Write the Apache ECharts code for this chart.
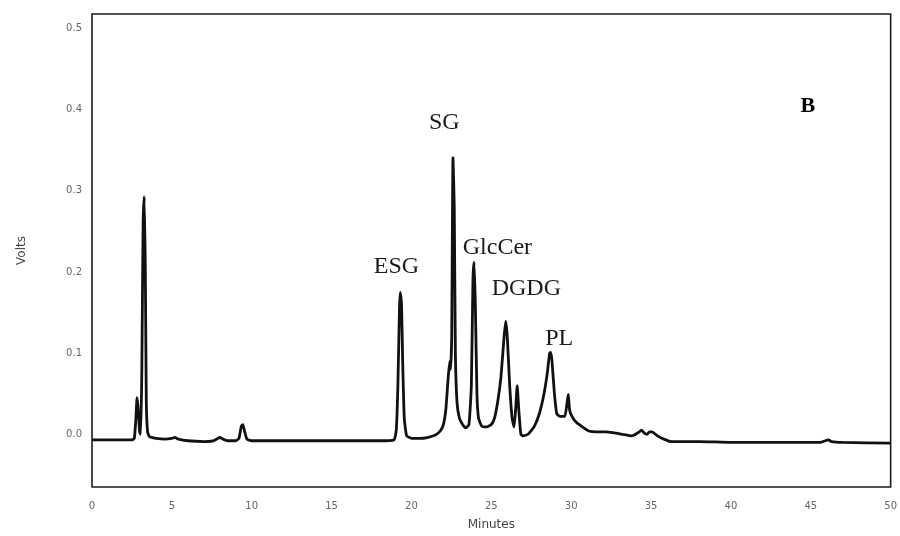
<!DOCTYPE html>
<html>
<head>
<meta charset="utf-8">
<script src="https://cdn.jsdelivr.net/npm/echarts@6/dist/echarts.min.js"></script>
<style>
  html, body { margin: 0; padding: 0; background: #fff; }
  #chart { width: 900px; height: 536px; }
</style>
</head>
<body>
<div id="chart"></div>
<script>
// Detector trace: retention time (minutes) and signal (volts)
const minutes = [
  0.0, 1.0, 2.0, 2.5, 2.65, 2.75, 2.82, 2.9, 2.98, 3.05, 3.12, 3.2, 3.27, 3.34, 3.4, 3.48, 3.6,
  4.0, 4.6, 5.0, 5.2, 5.4, 6.0, 7.0, 7.6, 7.8, 8.0, 8.2, 8.5, 9.0, 9.2, 9.35, 9.45, 9.55, 9.7,
  10.0, 12.0, 15.0, 18.0, 18.9, 19.05, 19.15, 19.25, 19.3, 19.38, 19.45, 19.55, 19.7,
  20.0, 20.5, 21.0, 21.5, 21.8, 22.0, 22.15, 22.3, 22.4, 22.45, 22.52, 22.6, 22.68, 22.75, 22.85,
  23.0, 23.2, 23.4, 23.6, 23.75, 23.85, 23.92, 24.0, 24.1, 24.2, 24.4, 24.7,
  25.0, 25.2, 25.4, 25.6, 25.8, 25.9, 26.0, 26.15, 26.3, 26.42, 26.52, 26.62, 26.72, 26.85,
  27.0, 27.3, 27.7, 28.0, 28.3, 28.5, 28.65, 28.72, 28.8, 28.95, 29.1, 29.3, 29.6, 29.75, 29.82, 29.9,
  30.05, 30.3, 30.7, 31.1, 31.6, 32.2, 32.6, 33.2, 33.8, 34.2, 34.4, 34.6, 34.75, 34.9, 35.06,
  35.4, 35.8, 36.25, 38.0, 40.0, 43.0, 45.6, 45.9, 46.1, 46.3, 47.0, 50.0
];
const volts = [
  -0.007, -0.007, -0.007, -0.007, -0.005, 0.020, 0.045, 0.030, 0.003, 0.000, 0.080, 0.260, 0.293, 0.200, 0.040, 0.003, -0.003,
  -0.005, -0.006, -0.005, -0.004, -0.006, -0.008, -0.009, -0.008, -0.006, -0.004, -0.006, -0.008, -0.008, -0.005, 0.010, 0.012, 0.004, -0.006,
  -0.008, -0.008, -0.008, -0.008, -0.007, 0.005, 0.060, 0.155, 0.175, 0.160, 0.090, 0.020, -0.002,
  -0.005, -0.005, -0.004, -0.001, 0.004, 0.012, 0.030, 0.070, 0.090, 0.080, 0.120, 0.341, 0.280, 0.100, 0.040,
  0.020, 0.012, 0.008, 0.012, 0.060, 0.190, 0.212, 0.160, 0.050, 0.020, 0.010, 0.009,
  0.012, 0.020, 0.040, 0.070, 0.120, 0.139, 0.120, 0.060, 0.020, 0.009, 0.030, 0.060, 0.030, 0.000,
  -0.002, 0.000, 0.010, 0.025, 0.050, 0.075, 0.100, 0.101, 0.090, 0.050, 0.025, 0.022, 0.022, 0.040, 0.049, 0.030,
  0.022, 0.015, 0.009, 0.004, 0.003, 0.003, 0.002, 0.000, -0.002, 0.002, 0.005, 0.001, 0.000, 0.003, 0.003,
  -0.002, -0.006, -0.009, -0.009, -0.010, -0.010, -0.010, -0.008, -0.007, -0.009, -0.010, -0.011
];

// Peak names and where their captions sit (minutes, volts)
const peakNames = ['ESG', 'SG', 'GlcCer', 'DGDG', 'PL'];
const peakLabelAt = [[19.06, 0.206], [22.06, 0.384], [25.38, 0.230], [27.19, 0.180], [29.25, 0.118]];
const panelLetter = 'B';
const panelLetterAt = [44.81, 0.404];

const xTicks = [0, 5, 10, 15, 20, 25, 30, 35, 40, 45, 50];
const yTicks = [0, 0.1, 0.2, 0.3, 0.4, 0.5];

const trace = minutes.map((m, i) => [m, volts[i]]);

const captionStyle = {
  fontFamily: 'Liberation Serif', fontSize: 24, color: '#1a1a1a'
};

const markData = peakNames.map((name, i) => ({
  coord: peakLabelAt[i],
  label: Object.assign({ formatter: name }, captionStyle)
}));
markData.push({
  coord: panelLetterAt,
  label: Object.assign({ formatter: panelLetter }, captionStyle, { fontWeight: 'bold', fontSize: 22, color: '#000' })
});

const chart = echarts.init(document.getElementById('chart'), null, { renderer: 'canvas' });
chart.setOption({
  animation: false,
  backgroundColor: '#ffffff',
  grid: {
    left: 92, right: 8, top: 14, bottom: 48,
    show: true, borderColor: '#1a1a1a', borderWidth: 1.6, backgroundColor: 'transparent'
  },
  xAxis: {
    type: 'value', min: 0, max: 50, interval: 5,
    name: 'Minutes', nameLocation: 'middle', nameGap: 32,
    nameTextStyle: { fontFamily: 'DejaVu Sans', fontSize: 12, color: '#444' },
    axisLine: { show: false }, axisTick: { show: false }, splitLine: { show: false },
    axisLabel: {
      margin: 14, fontFamily: 'DejaVu Sans', fontSize: 10, color: '#666',
      customValues: xTicks
    }
  },
  yAxis: {
    type: 'value', min: -0.065, max: 0.518,
    name: 'Volts', nameLocation: 'middle', nameGap: 64, nameRotate: 90,
    nameTextStyle: { fontFamily: 'DejaVu Sans', fontSize: 12, color: '#444' },
    axisLine: { show: false }, axisTick: { show: false }, splitLine: { show: false },
    axisLabel: {
      margin: 10, fontFamily: 'DejaVu Sans', fontSize: 10, color: '#666',
      customValues: yTicks,
      formatter: v => v.toFixed(1)
    }
  },
  series: [{
    type: 'line',
    data: trace,
    showSymbol: false,
    smooth: 0.15,
    lineStyle: { color: '#111', width: 2.8 },
    markPoint: {
      symbol: 'circle', symbolSize: 0,
      label: { show: true, position: 'inside' },
      data: markData
    }
  }]
});
</script>
</body>
</html>
